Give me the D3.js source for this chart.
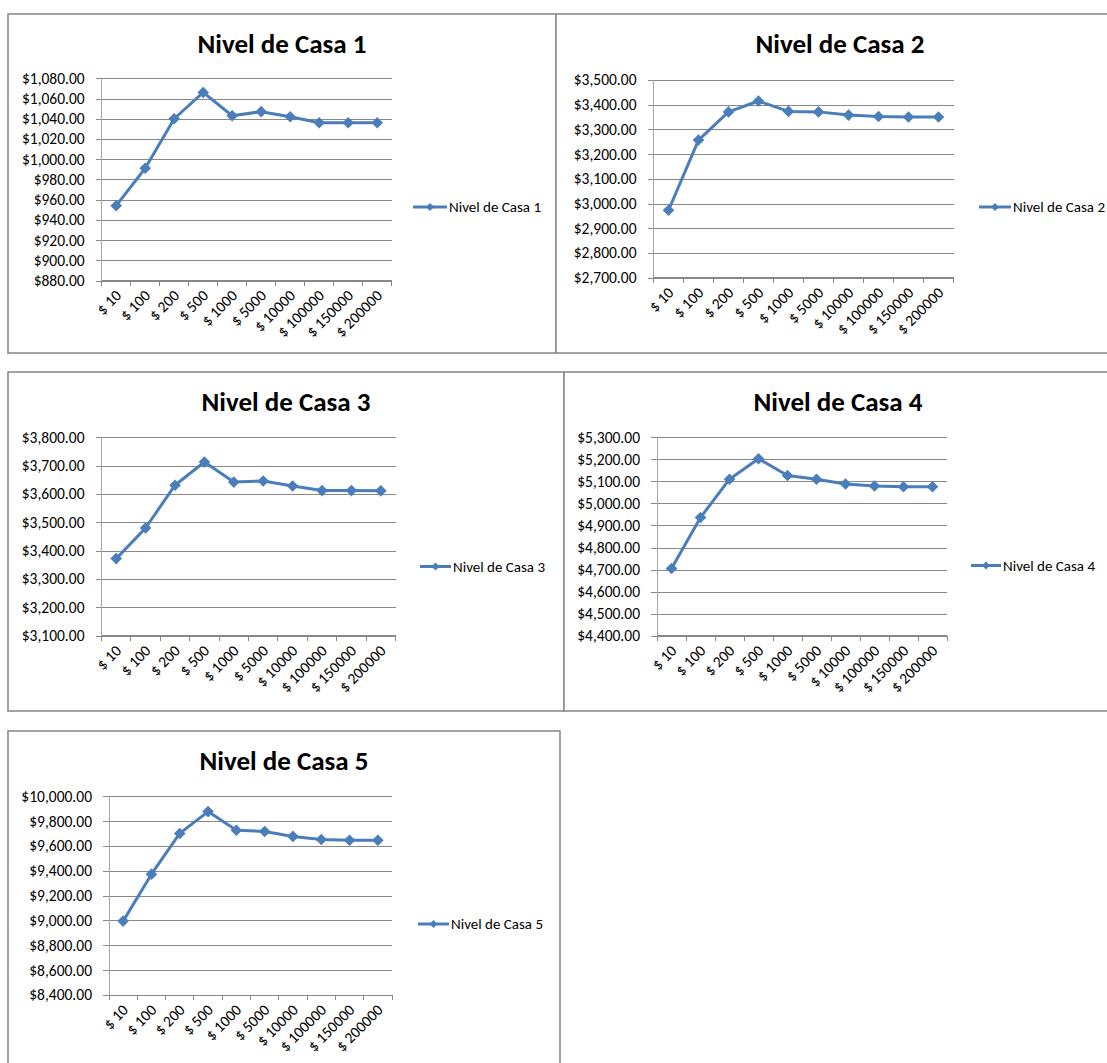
<!DOCTYPE html>
<html>
<head>
<meta charset="utf-8">
<script src="https://cdn.jsdelivr.net/npm/d3@7"></script>
<style>
  html, body { margin: 0; padding: 0; background: #fff; overflow: hidden; }
  svg { display: block; }
  text { font-family: Carlito, Calibri, Lato, sans-serif; fill: #000; }
</style>
</head>
<body>
<svg id="chart" width="1107" height="1063"></svg>
<script>
// Monto de la apuesta (categorías del eje X)
const categories = ["$ 10", "$ 100", "$ 200", "$ 500", "$ 1000", "$ 5000",
                    "$ 10000", "$ 100000", "$ 150000", "$ 200000"];

// Valores por nivel de casa
const casa1 = [954, 991, 1040, 1066, 1043, 1047, 1042, 1036, 1036, 1036];
const casa2 = [2973, 3257, 3371, 3415, 3373, 3371, 3358, 3352, 3350, 3350];
const casa3 = [3372, 3480, 3631, 3713, 3642, 3646, 3628, 3612, 3612, 3611];
const casa4 = [4705, 4936, 5110, 5203, 5127, 5110, 5088, 5079, 5076, 5076];
const casa5 = [8995, 9373, 9701, 9877, 9727, 9717, 9677, 9652, 9646, 9646];

const seriesNames = ["Nivel de Casa 1", "Nivel de Casa 2", "Nivel de Casa 3",
                     "Nivel de Casa 4", "Nivel de Casa 5"];

// Marcas del eje Y de cada gráfico
const ticks1 = [880, 900, 920, 940, 960, 980, 1000, 1020, 1040, 1060, 1080];
const ticks2 = [2700, 2800, 2900, 3000, 3100, 3200, 3300, 3400, 3500];
const ticks3 = [3100, 3200, 3300, 3400, 3500, 3600, 3700, 3800];
const ticks4 = [4400, 4500, 4600, 4700, 4800, 4900, 5000, 5100, 5200, 5300];
const ticks5 = [8400, 8600, 8800, 9000, 9200, 9400, 9600, 9800, 10000];

const seriesValues = [casa1, casa2, casa3, casa4, casa5];
const seriesTicks = [ticks1, ticks2, ticks3, ticks4, ticks5];

// Disposición de cada gráfico: marco, área de trazado y leyenda
const layout = [
  { frame: [8, 14, 556, 353],    plot: [101.7, 78.3, 391.7, 280.5], legend: [413, 447, 207] },
  { frame: [556, 14, 1124, 353], plot: [653.5, 80, 953.5, 277.7],   legend: [979, 1011, 207] },
  { frame: [8, 372, 564, 711],   plot: [101.5, 437.3, 395.5, 635.7], legend: [420, 451, 566.5] },
  { frame: [564, 372, 1112, 711], plot: [657, 437.3, 947, 635.7],   legend: [971, 1001, 565.5] },
  { frame: [8, 731, 560, 1090],  plot: [109, 796.3, 392, 995],     legend: [418, 449, 924] }
];

const LINE = "#4A7EBB";
const GRID = "#888888";
const AXIS = "#a6a6a6";
const money = d3.format("$,.2f");

const svg = d3.select("#chart");
svg.append("rect").attr("width", 1107).attr("height", 1063).attr("fill", "#fff");

const diamond = (r) => `M0,${-r}L${r},0L0,${r}L${-r},0Z`;

layout.forEach((L, i) => {
  const values = seriesValues[i];
  const ticks = seriesTicks[i];
  const [fx0, fy0, fx1, fy1] = L.frame;
  const [px0, py0, px1, py1] = L.plot;

  const g = svg.append("g");

  // marco del gráfico
  g.append("rect")
    .attr("x", fx0).attr("y", fy0)
    .attr("width", fx1 - fx0).attr("height", fy1 - fy0)
    .attr("fill", "#fff").attr("stroke", "#8c8c8c").attr("stroke-width", 1.6);

  // título
  g.append("text")
    .attr("x", (fx0 + fx1) / 2).attr("y", fy0 + 39)
    .attr("text-anchor", "middle")
    .attr("font-size", "27px").attr("font-weight", "bold")
    .text(seriesNames[i]);

  const x = d3.scaleBand().domain(categories).range([px0, px1]);
  const y = d3.scaleLinear().domain([ticks[0], ticks[ticks.length - 1]]).range([py1, py0]);

  // líneas de cuadrícula y etiquetas del eje Y
  const yAxis = d3.axisLeft(y).tickValues(ticks).tickFormat(money)
    .tickSize(-(px1 - px0)).tickPadding(0);
  const ya = g.append("g").attr("transform", `translate(${px0},0)`).call(yAxis);
  ya.select(".domain").remove();
  ya.selectAll(".tick line")
    .attr("x1", -6).attr("stroke", GRID).attr("stroke-width", 1)
    .attr("shape-rendering", "crispEdges");
  ya.selectAll(".tick text")
    .attr("x", -17).attr("font-size", "15.5px").attr("fill", "#000")
    .attr("font-family", "Carlito, Calibri, Lato, sans-serif");

  // eje vertical
  g.append("line")
    .attr("x1", px0).attr("x2", px0).attr("y1", py0).attr("y2", py1)
    .attr("stroke", AXIS).attr("stroke-width", 1).attr("shape-rendering", "crispEdges");

  // eje X con marcas entre categorías
  const xa = g.append("g").attr("transform", `translate(0,${py1})`);
  const bounds = categories.map(c => x(c)).concat([px1]);
  xa.selectAll("line.tk").data(bounds).join("line").attr("class", "tk")
    .attr("x1", d => d).attr("x2", d => d).attr("y1", 0).attr("y2", 5)
    .attr("stroke", GRID).attr("shape-rendering", "crispEdges");
  xa.append("line").attr("x1", px0).attr("x2", px1).attr("y1", 0).attr("y2", 0)
    .attr("stroke", GRID).attr("shape-rendering", "crispEdges");
  xa.selectAll("text").data(categories).join("text")
    .attr("transform", d => `translate(${x(d) + x.bandwidth() / 2 + 6},${16}) rotate(-45)`)
    .attr("text-anchor", "end")
    .attr("font-size", "15.5px")
    .text(d => d);

  // serie
  const pts = categories.map((c, k) => [x(c) + x.bandwidth() / 2, y(values[k])]);
  g.append("path")
    .attr("d", d3.line()(pts))
    .attr("fill", "none").attr("stroke", LINE).attr("stroke-width", 3)
    .attr("stroke-linejoin", "round");
  g.selectAll("path.mk").data(pts).join("path").attr("class", "mk")
    .attr("transform", d => `translate(${d[0]},${d[1]})`)
    .attr("d", diamond(5.8)).attr("fill", LINE);

  // leyenda
  const [lx0, lx1, ly] = L.legend;
  g.append("line").attr("x1", lx0).attr("x2", lx1).attr("y1", ly).attr("y2", ly)
    .attr("stroke", LINE).attr("stroke-width", 3);
  g.append("path").attr("transform", `translate(${(lx0 + lx1) / 2},${ly})`)
    .attr("d", diamond(4)).attr("fill", LINE);
  g.append("text").attr("x", lx1 + 2).attr("y", ly).attr("dy", "0.35em")
    .attr("font-size", "15px").text(seriesNames[i]);
});
</script>
</body>
</html>
